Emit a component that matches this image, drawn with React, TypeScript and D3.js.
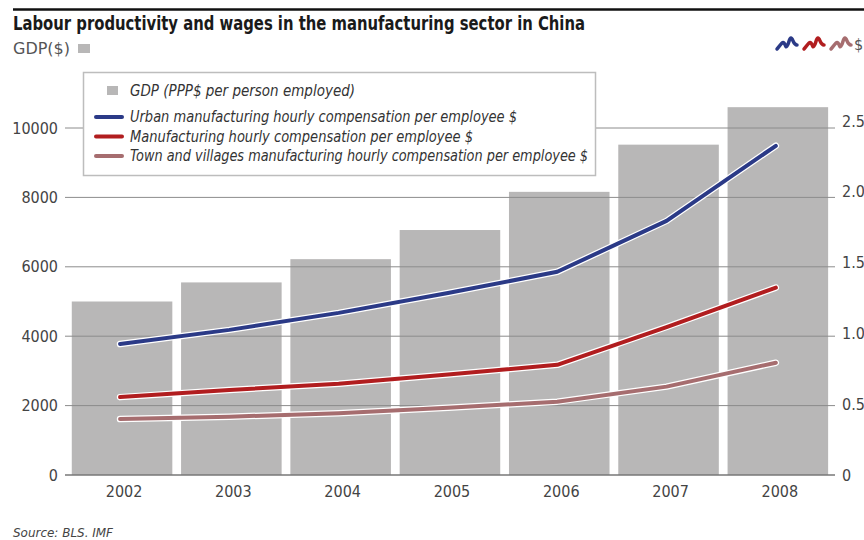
import React from "react";
import * as d3 from "d3";

const years = ["2002", "2003", "2004", "2005", "2006", "2007", "2008"];
const gdp = [5000, 5550, 6220, 7060, 8160, 9520, 10600];
const urban = [0.925, 1.025, 1.145, 1.285, 1.435, 1.795, 2.325];
const manuf = [0.55, 0.6, 0.645, 0.71, 0.778, 1.045, 1.323];
const town = [0.395, 0.412, 0.436, 0.475, 0.518, 0.624, 0.793];
const leftTicks = [0, 2000, 4000, 6000, 8000, 10000];
const rightTicks = [0, 0.5, 1.0, 1.5, 2.0, 2.5];
const rightTickLabels = ["0", "0.5", "1.0", "1.5", "2.0", "2.5"];
const legendLabels = [
  "GDP (PPP$ per person employed)",
  "Urban manufacturing hourly compensation per employee $",
  "Manufacturing hourly compensation per employee $",
  "Town and villages manufacturing hourly compensation per employee $",
];
const legendWidths = [225, 387, 343, 458];
const seriesColors = ["#2b3a87", "#b11d1f", "#a66d6f"];

const FONT = "'Liberation Sans Narrow', 'DejaVu Sans Condensed', 'Roboto', sans-serif";

export default function App() {
  const W = 864, H = 540;
  const x = d3.scaleBand<string>().domain(years).range([67.4, 832.5]).paddingInner(0.08).paddingOuter(0.04);
  const yL = d3.scaleLinear().domain([0, 10000]).range([475, 128]);
  const yR = d3.scaleLinear().domain([0, 2.5]).range([475, 121]);
  const cx = (d: string) => (x(d) as number) + x.bandwidth() / 2 - 2;
  const line = d3.line<number>().x((_, i) => cx(years[i])).y((v) => yR(v)).curve(d3.curveLinear);
  const series = [urban, manuf, town];

  return (
    <svg width={W} height={H} style={{ position: "absolute", left: 0, top: 0, background: "#fff" }} fontFamily={FONT}>
      <line x1={13} x2={W} y1={9.5} y2={9.5} stroke="#111" strokeWidth={2.5} />
      <text x={13} y={30} fontSize={20} fontWeight="bold" fill="#1a1a1a" textLength={572} lengthAdjust="spacingAndGlyphs">
        Labour productivity and wages in the manufacturing sector in China
      </text>
      <text x={13} y={54} fontSize={16} fill="#555" textLength={57} lengthAdjust="spacingAndGlyphs">GDP($)</text>
      <rect x={78} y={44} width={12} height={9} fill="#b8b7b7" />
      {/* top right icons */}
      {seriesColors.map((c, i) => {
        const ox = 777 + i * 27;
        return (
          <path key={i} d={`M${ox},49 C${ox + 3},46 ${ox + 5},41 ${ox + 7},43 C${ox + 9},45 ${ox + 8},48 ${ox + 10},46 C${ox + 12},44 ${ox + 12},38 ${ox + 14},38 C${ox + 16},38 ${ox + 16},45 ${ox + 20},45`}
            fill="none" stroke={c} strokeWidth={3.5} strokeLinejoin="round" strokeLinecap="round" />
        );
      })}
      <text x={854} y={50} fontSize={16} fill="#555">$</text>

      {/* bars */}
      {gdp.map((v, i) => (
        <rect key={years[i]} x={x(years[i])} y={yL(v)} width={x.bandwidth()} height={yL(0) - yL(v)} fill="#b8b7b7" />
      ))}
      {/* gridlines */}
      {leftTicks.map((t) => (
        <g key={t}>
          <line x1={65} x2={835} y1={yL(t)} y2={yL(t)} stroke={t === 0 ? "#777" : "#8c8c8c"} strokeWidth={t === 0 ? 1.5 : 1} />
          <text x={58} y={yL(t)} dy="0.35em" textAnchor="end" fontSize={16} fill="#444">{t}</text>
        </g>
      ))}
      {rightTicks.map((t, i) => (
        <text key={t} x={842} y={yR(t)} dy="0.35em" fontSize={16} fill="#444">{rightTickLabels[i]}</text>
      ))}
      {years.map((yv) => (
        <text key={yv} x={cx(yv) + 4} y={497} textAnchor="middle" fontSize={16} fill="#444">{yv}</text>
      ))}

      {/* lines */}
      {series.map((s, i) => (
        <g key={i}>
          <path d={line(s) || ""} fill="none" stroke="#fff" strokeWidth={6.5} strokeLinecap="round" strokeLinejoin="round" />
          <path d={line(s) || ""} fill="none" stroke={seriesColors[i]} strokeWidth={4} strokeLinecap="round" strokeLinejoin="round" />
        </g>
      ))}

      {/* legend */}
      <rect x={83.5} y={72.5} width={512} height={103} fill="#fff" stroke="#bdbdbd" strokeWidth={1.5} />
      <rect x={107} y={86} width={11} height={9} fill="#b8b7b7" />
      <text x={130} y={96} fontSize={16} fontStyle="italic" fill="#333" textLength={legendWidths[0]} lengthAdjust="spacingAndGlyphs">{legendLabels[0]}</text>
      {seriesColors.map((c, i) => {
        const ly = 117 + i * 19.5;
        return (
          <g key={c}>
            <line x1={96} x2={122} y1={ly} y2={ly} stroke={c} strokeWidth={4} strokeLinecap="round" />
            <text x={130} y={ly + 5} fontSize={16} fontStyle="italic" fill="#333" textLength={legendWidths[i + 1]} lengthAdjust="spacingAndGlyphs">{legendLabels[i + 1]}</text>
          </g>
        );
      })}

      <text x={13} y={537} fontSize={12.5} fontStyle="italic" fill="#444" textLength={100} lengthAdjust="spacingAndGlyphs">Source: BLS. IMF</text>
    </svg>
  );
}
